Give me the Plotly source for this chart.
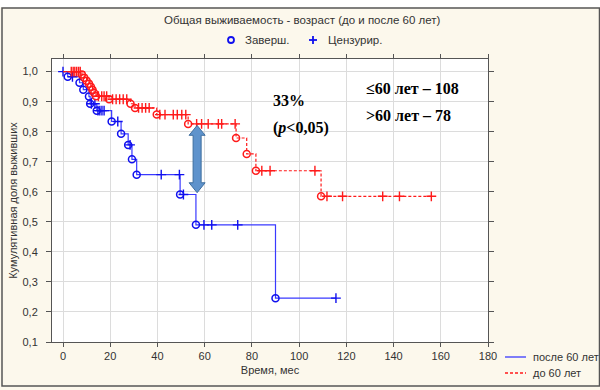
import plotly.graph_objects as go

# ---------------- data ----------------
# Group "после 60 лет" (blue)
blue_event_t = [2, 7, 8.6, 11, 11.5, 14.3, 20.6, 24.6, 27.6, 29.2, 31.2, 49.6, 56.3, 90]
blue_event_s = [0.983, 0.963, 0.94, 0.917, 0.893, 0.87, 0.834, 0.793, 0.756, 0.708, 0.657, 0.591, 0.49, 0.246]
blue_cens_t = [0, 4, 12, 13.5, 14.8, 15.6, 16.5, 17.4, 23.2, 28.4, 41.6, 49.3, 51, 59.7, 63, 74, 115.6]

# Group "до 60 лет" (red)
red_event_t = [8, 9, 10, 11, 11.8, 12.5, 13.2, 14, 19.5, 28.6, 30.5, 39.7, 53, 73.3, 77.8, 81.7, 109.3]
red_event_s = [0.99, 0.98, 0.97, 0.96, 0.95, 0.94, 0.929, 0.918, 0.908, 0.893, 0.879, 0.857, 0.826, 0.779, 0.726, 0.67, 0.585]
red_cens_t = [3.5, 4.3, 5, 5.8, 6.6, 7.3, 15, 16.4, 17.4, 18.5, 21, 22.5, 24, 25.5, 27,
              32, 33.5, 35, 36.5, 41, 43.2, 46.7, 48.4, 50.3, 52,
              56.6, 58.7, 61.5, 65.8, 67.2, 72.9, 84.2, 87.7, 106.7,
              111.8, 118.4, 135.4, 142.5, 156]

x_ticks = [0, 20, 40, 60, 80, 100, 120, 140, 160, 180]
y_ticks = [0.1, 0.2, 0.3, 0.4, 0.5, 0.6, 0.7, 0.8, 0.9, 1.0]
y_ticktext = ["0,1", "0,2", "0,3", "0,4", "0,5", "0,6", "0,7", "0,8", "0,9", "1,0"]

series_names = ["после 60 лет", "до 60 лет"]
marker_names = ["Заверш.", "Цензурир."]
title_text = "Общая выживаемость - возраст (до и после 60 лет)"

# ---------------- geometry (pixels) ----------------
W, H = 600, 390
L, R, T, B = 52, 112, 59, 48
PW, PH = W - L - R, H - T - B


def px(xpix):
    return (xpix - L) / PW


def py(ypix):
    return (H - B - ypix) / PH


def level_at(t, ev_t, ev_s):
    s = 1.0
    for et, es in zip(ev_t, ev_s):
        if et <= t:
            s = es
    return s


BLUE_LINE = "#3a3aff"
BLUE = "#1010ee"
RED = "#ff1a1a"
RED_DASH = "3px,2px"

fig = go.Figure()


def add_group(name, ev_t, ev_s, cens_t, line_color, mark_color, dash):
    end_t = max(cens_t + ev_t)
    xs = [0] + ev_t + [end_t]
    ys = [1.0] + ev_s + [level_at(end_t, ev_t, ev_s)]
    fig.add_trace(go.Scatter(
        x=xs, y=ys, mode="lines", line=dict(color=line_color, width=1.2, shape="hv", dash=dash),
        name=name, hoverinfo="skip"))
    fig.add_trace(go.Scatter(
        x=ev_t, y=ev_s, mode="markers",
        marker=dict(symbol="circle-open", size=7, color=mark_color, line=dict(width=1.5, color=mark_color))))
    fig.add_trace(go.Scatter(
        x=cens_t, y=[level_at(t, ev_t, ev_s) for t in cens_t], mode="markers",
        marker=dict(symbol="cross-thin", size=7, color=mark_color, line=dict(width=1.4, color=mark_color))))


add_group(series_names[0], blue_event_t, blue_event_s, blue_cens_t, BLUE_LINE, BLUE, "solid")
add_group(series_names[1], red_event_t, red_event_s, red_cens_t, RED, RED, RED_DASH)

# double-headed arrow
ax, ytop, ybot = 56.8, 0.821, 0.597
hw, sw, hl = 3.4, 1.7, 0.033
path = (f"M {ax},{ytop} L {ax+hw},{ytop-hl} L {ax+sw},{ytop-hl} L {ax+sw},{ybot+hl} "
        f"L {ax+hw},{ybot+hl} L {ax},{ybot} L {ax-hw},{ybot+hl} L {ax-sw},{ybot+hl} "
        f"L {ax-sw},{ytop-hl} L {ax-hw},{ytop-hl} Z")
fig.add_shape(type="path", path=path, xref="x", yref="y",
              fillcolor="#5f93cc", line=dict(color="#3f6f9f", width=1), layer="above")

# outer frame of the picture and white top strip
fig.add_shape(type="rect", xref="paper", yref="paper", x0=px(-10), x1=px(610),
              y0=py(7.5), y1=py(-5), fillcolor="white", line=dict(width=0), layer="below")
fig.add_shape(type="rect", xref="paper", yref="paper",
              x0=px(2), x1=px(599.5), y0=py(386), y1=py(8),
              line=dict(color="#555555", width=1.5), fillcolor="rgba(0,0,0,0)", layer="below")

sans = "Arial, Liberation Sans, sans-serif"
small_font = dict(family=sans, size=11, color="#333333")
title_font = dict(family=sans, size=11.5, color="#333333")

# title
fig.add_annotation(x=px(302), y=py(20), xref="paper", yref="paper", text=title_text, showarrow=False,
                   xanchor="center", yanchor="middle", font=title_font)

# top legend (marker types)
fig.add_shape(type="circle", xref="paper", yref="paper", x0=px(228), x1=px(234), y0=py(43), y1=py(37),
              line=dict(color=BLUE, width=1.8), fillcolor="rgba(0,0,0,0)")
fig.add_annotation(x=px(243), y=py(40), xref="paper", yref="paper", text=marker_names[0], showarrow=False,
                   xanchor="left", yanchor="middle", font=title_font)
fig.add_shape(type="line", xref="paper", yref="paper", x0=px(309), x1=px(317), y0=py(40), y1=py(40),
              line=dict(color=BLUE, width=1.8))
fig.add_shape(type="line", xref="paper", yref="paper", x0=px(313), x1=px(313), y0=py(36), y1=py(44),
              line=dict(color=BLUE, width=1.8))
fig.add_annotation(x=px(326), y=py(40), xref="paper", yref="paper", text=marker_names[1], showarrow=False,
                   xanchor="left", yanchor="middle", font=title_font)

# bottom-right legend (series)
fig.add_shape(type="line", xref="paper", yref="paper", x0=px(505), x1=px(526), y0=py(357), y1=py(357),
              line=dict(color=BLUE_LINE, width=1.3))
fig.add_annotation(x=px(531), y=py(357), xref="paper", yref="paper", text=series_names[0], showarrow=False,
                   xanchor="left", yanchor="middle", font=small_font)
fig.add_shape(type="line", xref="paper", yref="paper", x0=px(505), x1=px(526), y0=py(373), y1=py(373),
              line=dict(color=RED, width=1.3, dash=RED_DASH))
fig.add_annotation(x=px(531), y=py(373), xref="paper", yref="paper", text=series_names[1], showarrow=False,
                   xanchor="left", yanchor="middle", font=small_font)

serif = "Liberation Serif, Times New Roman, serif"
ann_font = dict(family=serif, size=16, color="black")
fig.add_annotation(x=88.0, y=0.903, xref="x", yref="y", text="<b>33%</b>", showarrow=False,
                   xanchor="left", yanchor="middle", font=ann_font)
fig.add_annotation(x=88.0, y=0.813, xref="x", yref="y", text="<b>(<i>p</i>&lt;0,05)</b>", showarrow=False,
                   xanchor="left", yanchor="middle", font=ann_font)
fig.add_annotation(x=127.3, y=0.943, xref="x", yref="y", text="<b>≤60 лет – 108</b>", showarrow=False,
                   xanchor="left", yanchor="middle", font=ann_font)
fig.add_annotation(x=127.3, y=0.853, xref="x", yref="y", text="<b>&gt;60 лет – 78</b>", showarrow=False,
                   xanchor="left", yanchor="middle", font=ann_font)

fig.update_layout(
    width=W, height=H,
    margin=dict(l=L, r=R, t=T, b=B, autoexpand=False),
    paper_bgcolor="#fcf8ec",
    plot_bgcolor="white",
    font=small_font,
    showlegend=False,
    xaxis=dict(range=[-4.66, 180], tickvals=x_ticks, showgrid=True, gridcolor="#dcdcdc", gridwidth=1,
               zeroline=False, showline=True, linecolor="#555555", linewidth=1, mirror="ticks",
               ticks="outside", ticklen=4, tickcolor="#555555", automargin=False,
               title=dict(text="Время, мес", standoff=5, font=small_font)),
    yaxis=dict(range=[0.1, 1.042], tickvals=y_ticks, ticktext=y_ticktext, showgrid=True,
               gridcolor="#dcdcdc", gridwidth=1, zeroline=False, showline=True, linecolor="#555555",
               linewidth=1, mirror="ticks", ticks="outside", ticklen=5, tickcolor="#555555",
               ticklabelstandoff=6, automargin=False,
               title=dict(text="Кумулятивная доля выживших", standoff=2, font=small_font)),
)

fig.write_html("out.html", config={"displayModeBar": False},
               post_script="document.body.style.margin='0px';document.body.style.padding='0px';")
